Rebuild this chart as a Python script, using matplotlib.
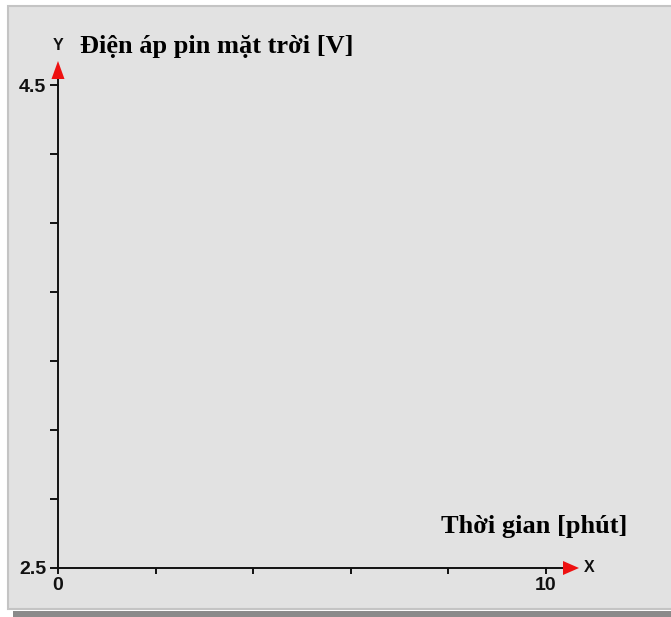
import numpy as np
import matplotlib
matplotlib.use("Agg")
import matplotlib.pyplot as plt
from matplotlib.patches import Rectangle, Polygon
from matplotlib.lines import Line2D

# Data / labels
x_ticks = [0, 2, 4, 6, 8, 10]
x_tick_labels = ["0", "", "", "", "", "10"]
y_ticks = list(np.linspace(2.5, 4.5, 8))
y_tick_labels = ["2.5", "", "", "", "", "", "", "4.5"]
x_limits = (0, 10)
y_limits = (2.5, 4.5)
y_title = "Điện áp pin mặt trời [V]"
x_title = "Thời gian [phút]"
y_axis_name = "Y"
x_axis_name = "X"

W, H = 671, 617
fig = plt.figure(figsize=(W / 100, H / 100), dpi=100)
fig.patch.set_facecolor("white")

def fx(px):
    return px / W

def fy(py):
    return 1 - py / H

fig.patches.append(Rectangle((fx(8), fy(609)), fx(W - 8) + 0.01, fy(6) - fy(609),
                             transform=fig.transFigure, facecolor="#e2e2e2",
                             edgecolor="#c4c4c4", linewidth=1.5, zorder=-5))
fig.patches.append(Rectangle((fx(13), 0), 1, fy(611),
                             transform=fig.transFigure, facecolor="#8a8a8a",
                             edgecolor="none", zorder=-5))

left, right, top, bottom = 58, 546, 85, 568
ax = fig.add_axes([fx(left), fy(bottom), fx(right) - fx(left), fy(top) - fy(bottom)])
ax.set_zorder(2)
ax.set_facecolor("none")
ax.set_xlim(*x_limits)
ax.set_ylim(*y_limits)
for s in ["top", "right"]:
    ax.spines[s].set_visible(False)
for s in ["left", "bottom"]:
    ax.spines[s].set_color("#111111")
    ax.spines[s].set_linewidth(1.4)

ax.set_xticks(x_ticks)
ax.set_xticklabels(x_tick_labels)
ax.set_yticks(y_ticks)
ax.set_yticklabels(y_tick_labels)
ax.tick_params(axis="both", direction="out", width=1.4, color="#111111",
               labelsize=14, labelcolor="#111111")
ax.tick_params(axis="x", length=4, pad=2.5)
ax.tick_params(axis="y", length=6, pad=2.5)
for lab in ax.get_xticklabels() + ax.get_yticklabels():
    lab.set_fontweight("bold")
    lab.set_family("Liberation Sans")

aw = right - left
ah = bottom - top

ax.add_line(Line2D([0, 0], [1, 1.015], transform=ax.transAxes, color="#111111",
                   lw=1.4, clip_on=False))
ax.add_line(Line2D([1, (564 - left) / aw], [0, 0], transform=ax.transAxes, color="#111111",
                   lw=1.4, clip_on=False))
hw = 6.5 / aw
ax.add_patch(Polygon([(-hw, (bottom - 79) / ah), (hw, (bottom - 79) / ah), (0, (bottom - 61) / ah)],
                     closed=True, transform=ax.transAxes, facecolor="#ee1111",
                     edgecolor="none", clip_on=False, zorder=5))
hh = 7 / ah
ax.add_patch(Polygon([((563 - left) / aw, -hh), ((563 - left) / aw, hh), ((579 - left) / aw, 0)],
                     closed=True, transform=ax.transAxes, facecolor="#ee1111",
                     edgecolor="none", clip_on=False, zorder=5))

ax.text(0, (bottom - 46) / ah, y_axis_name, transform=ax.transAxes, ha="center", va="center",
        fontsize=11.5, fontweight="bold", family="Liberation Sans", color="#111111")
ax.text((589 - left) / aw, 0, x_axis_name, transform=ax.transAxes, ha="center", va="center",
        fontsize=11.5, fontweight="bold", family="Liberation Sans", color="#111111")

ax.text((80 - left) / aw, (bottom - 47) / ah, y_title, transform=ax.transAxes,
        ha="left", va="center", fontsize=19, fontweight="bold",
        family="Liberation Serif", color="black")
ax.text((627 - left) / aw, (bottom - 527) / ah, x_title, transform=ax.transAxes,
        ha="right", va="center", fontsize=19, fontweight="bold",
        family="Liberation Serif", color="black")

fig.savefig("out.png", dpi=100)
